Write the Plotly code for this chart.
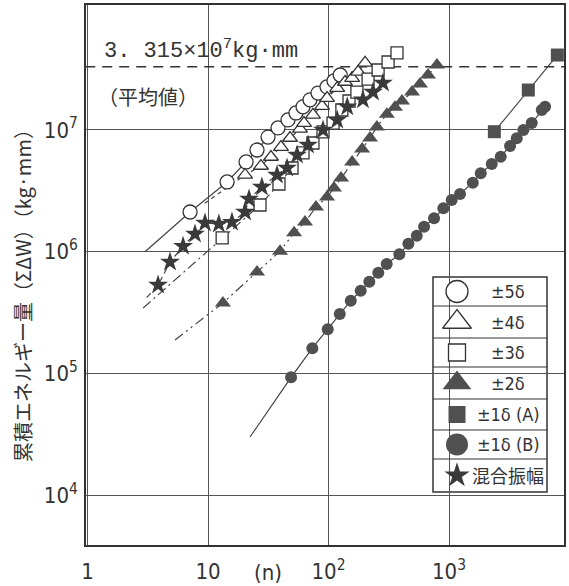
import plotly.graph_objects as go

# ---------------- data ----------------
N5 = [7.1, 14.4, 20.7, 25.5, 31.5, 38.1, 46.1, 53.7, 61.4, 70.2, 81.8, 97.2, 111, 125]
W5 = [2.12e6, 3.74e6, 5.46e6, 6.85e6, 8.75e6, 1.04e7, 1.21e7, 1.38e7, 1.55e7, 1.77e7, 2.01e7, 2.26e7, 2.53e7, 2.83e7]

N4 = [20.3, 27.5, 33.3, 40.3, 47.9, 58.0, 62.6, 74.3, 88.3, 97.2, 118, 137, 157, 176, 201]
W4 = [4.27e6, 5.06e6, 6.0e6, 7.24e6, 8.59e6, 1.02e7, 1.14e7, 1.33e7, 1.57e7, 1.83e7, 2.21e7, 2.48e7, 2.67e7, 3.0e7, 3.56e7]

N3 = [13.1, 27.0, 38.8, 49.8, 61.4, 74.3, 90.0, 109, 129, 148, 172, 213, 258, 312, 370]
W3 = [1.30e6, 2.42e6, 3.60e6, 4.87e6, 6.48e6, 7.82e6, 9.64e6, 1.14e7, 1.46e7, 1.73e7, 2.05e7, 2.62e7, 3.11e7, 3.62e7, 4.30e7]

N2 = [13.3, 25.5, 39.6, 51.8, 63.8, 78.7, 97.2, 111, 127, 157, 190, 221, 252, 305, 356, 407, 493, 574, 669, 794]
W2 = [3.79e5, 6.8e5, 1.01e6, 1.43e6, 1.75e6, 2.33e6, 2.81e6, 3.33e6, 4.03e6, 5.46e6, 6.98e6, 8.59e6, 1.06e7, 1.35e7, 1.54e7, 1.73e7, 2.05e7, 2.39e7, 2.83e7, 3.42e7]

N1A = [2377, 4550, 7920]
W1A = [9.68e6, 2.13e7, 4.13e7]

N1B = [48.9, 73.4, 98.5, 124, 153, 185, 218, 259, 304, 387, 460, 540, 621, 751, 897, 1052, 1234, 1574, 1833, 2261, 2685, 3209, 3647, 4139, 4856, 5878, 6265]
W1B = [9.29e4, 1.61e5, 2.31e5, 3.07e5, 3.96e5, 4.78e5, 5.66e5, 6.72e5, 7.92e5, 9.52e5, 1.16e6, 1.35e6, 1.60e6, 1.88e6, 2.27e6, 2.66e6, 2.98e6, 3.69e6, 4.41e6, 5.26e6, 6.04e6, 7.39e6, 8.55e6, 1.0e7, 1.14e7, 1.46e7, 1.55e7]

NMIX = [3.85, 4.84, 6.21, 7.80, 9.44, 12.3, 15.8, 20.3, 21.9, 28.0, 37.4, 45.3, 54.8, 67.6, 90.0, 118, 143, 193, 234, 283]
WMIX = [5.32e5, 8.22e5, 1.11e6, 1.40e6, 1.72e6, 1.69e6, 1.75e6, 2.12e6, 2.71e6, 3.40e6, 4.27e6, 4.87e6, 6.24e6, 7.53e6, 1.0e7, 1.21e7, 1.55e7, 1.77e7, 2.05e7, 2.43e7]

# start points of the fitted lines that run in below the first marker
LEAD_N = {"5": 3.0, "4": 9.4, "3": 2.89, "2": 5.32, "1B": 22.3, "MIX": 3.1}
LEAD_W = {"5": 1.0e6, "4": 2.5e6, "3": 3.44e5, "2": 1.88e5, "1B": 3.0e4, "MIX": 4.2e5}

AVG = 3.315e7
AVG_TEXT = "3. 315×10<sup>7</sup>kg·mm"
AVG_NOTE = "（平均値）"

X_TICKS = [1, 10, 100, 1000]
X_TICKTEXT = ["1", "10", "10<sup>2</sup>", "10<sup>3</sup>"]
Y_TICKS = [1e4, 1e5, 1e6, 1e7]
Y_TICKTEXT = ["10<sup>4</sup>", "10<sup>5</sup>", "10<sup>6</sup>", "10<sup>7</sup>"]
Y_TITLE = "累積エネルギー量（ΣΔW）（kg·mm）"
X_TITLE = "(n)"

LEGEND_LABELS = ["±5δ", "±4δ", "±3δ", "±2δ", "±1δ (A)", "±1δ (B)", "混合振幅"]

# ---------------- styling ----------------
W_PX, H_PX = 569, 586
L, R, T, B = 86, 5, 5, 41
PL, PR, PT, PB = L, W_PX - R, T, H_PX - B

def px(x):
    return (x - PL) / (PR - PL)

def py(y):
    return (PB - y) / (PB - PT)

INK = "#333333"
FILL = "#505050"
LINE = "#444444"
NUMFONT = "Liberation Sans Narrow, DejaVu Sans Condensed, sans-serif"
CJK = "Noto Sans CJK JP"

series = [
    # key, N, W, symbol, size, fill, dash
    ("5", N5, W5, "circle", 14, "white", "solid"),
    ("4", N4, W4, "triangle-up", 13, "white", "4px,4px"),
    ("3", N3, W3, "square", 12, "white", "10px,4px,2px,4px"),
    ("MIX", NMIX, WMIX, "star", 15, "#3a3a3a", "6px,4px"),
    ("2", N2, W2, "triangle-up", 14, FILL, "10px,4px,2px,4px,2px,4px"),
    ("1A", N1A, W1A, "square", 13, FILL, "solid"),
    ("1B", N1B, W1B, "circle", 12, FILL, "solid"),
]

fig = go.Figure()

# average line
fig.add_trace(go.Scatter(x=[0.5, 20000], y=[AVG, AVG], mode="lines",
                         line=dict(color=INK, width=1.5, dash="10px,7px"),
                         hoverinfo="skip", showlegend=False))

# fit lines
for key, n, w, sym, size, fill, dash in series:
    xs = ([LEAD_N[key]] if key in LEAD_N else []) + list(n)
    ys = ([LEAD_W[key]] if key in LEAD_W else []) + list(w)
    fig.add_trace(go.Scatter(x=xs, y=ys, mode="lines",
                             line=dict(color=LINE, width=1.2, dash=dash),
                             hoverinfo="skip", showlegend=False))

# markers
for key, n, w, sym, size, fill, dash in series:
    open_m = fill == "white"
    fig.add_trace(go.Scatter(
        x=n, y=w, mode="markers", showlegend=False,
        marker=dict(symbol=sym, size=size, color=fill,
                    line=dict(color=INK if open_m else fill, width=1.3 if open_m else 0))))

# ---------------- manual legend ----------------
LEG_X0, LEG_X1 = 433, 547
ROW_EDGES = [277, 306, 338, 367, 399, 430, 459, 492]
SYM_X, TXT_X = 457, 508
leg_syms = [("circle", 22, "white"), ("triangle-up", 25, "white"), ("square", 17, "white"),
            ("triangle-up", 25, FILL), ("square", 17, FILL), ("circle", 22, FILL), ("star", 19, "#3a3a3a")]

shapes = [dict(type="rect", xref="paper", yref="paper", layer="between",
               x0=px(LEG_X0), x1=px(LEG_X1), y0=py(ROW_EDGES[-1]), y1=py(ROW_EDGES[0]),
               fillcolor="white", line=dict(color=INK, width=1.5))]
for e in ROW_EDGES[1:-1]:
    shapes.append(dict(type="line", xref="paper", yref="paper", layer="above",
                       x0=px(LEG_X0), x1=px(LEG_X1), y0=py(e), y1=py(e),
                       line=dict(color=INK, width=1.2)))

annotations = []
for i, (lab, (sym, size, fill)) in enumerate(zip(LEGEND_LABELS, leg_syms)):
    cy = (ROW_EDGES[i] + ROW_EDGES[i + 1]) / 2
    open_m = fill == "white"
    fig.add_trace(go.Scatter(
        x=[px(SYM_X)], y=[py(cy)], xaxis="x2", yaxis="y2", mode="markers", showlegend=False,
        hoverinfo="skip",
        marker=dict(symbol=sym, size=size, color=fill,
                    line=dict(color=INK if open_m else fill, width=1.3 if open_m else 0))))
    annotations.append(dict(xref="paper", yref="paper", x=px(TXT_X), y=py(cy), text=lab,
                            showarrow=False, xanchor="center", yanchor="middle",
                            font=dict(family=CJK if lab == "混合振幅" else NUMFONT, size=18, color=INK)))

# text annotations
annotations.append(dict(xref="paper", yref="paper", x=px(102), y=py(49), text=AVG_TEXT,
                        showarrow=False, xanchor="left", yanchor="middle",
                        font=dict(family="Liberation Mono, DejaVu Sans Mono, monospace", size=22, color=INK)))
annotations.append(dict(xref="paper", yref="paper", x=px(96), y=py(96), text=AVG_NOTE,
                        showarrow=False, xanchor="left", yanchor="middle",
                        font=dict(family=CJK, size=20, color=INK)))
annotations.append(dict(xref="paper", yref="paper", x=px(22), y=py(291), text=Y_TITLE,
                        showarrow=False, xanchor="center", yanchor="middle", textangle=-90,
                        font=dict(family=CJK, size=20, color=INK)))
annotations.append(dict(xref="paper", yref="paper", x=px(268), y=py(572), text=X_TITLE,
                        showarrow=False, xanchor="center", yanchor="middle",
                        font=dict(family=NUMFONT, size=22, color=INK)))

axis_common = dict(type="log", showgrid=True, gridcolor="#555555", gridwidth=1,
                   showline=True, linecolor=INK, linewidth=1.5, mirror=True,
                   ticks="", zeroline=False, automargin=False,
                   tickfont=dict(family=NUMFONT, size=22, color=INK))

fig.update_layout(
    width=W_PX, height=H_PX,
    margin=dict(l=L, r=R, t=T, b=B, autoexpand=False),
    paper_bgcolor="white", plot_bgcolor="white",
    showlegend=False,
    xaxis=dict(range=[-0.0124, 3.954], tickvals=X_TICKS, ticktext=X_TICKTEXT,
               ticklabelstandoff=6, **axis_common),
    yaxis=dict(range=[3.590, 8.027], tickvals=Y_TICKS, ticktext=Y_TICKTEXT,
               ticklabelstandoff=2, **axis_common),
    xaxis2=dict(overlaying="x", range=[0, 1], visible=False, anchor="y2"),
    yaxis2=dict(overlaying="y", range=[0, 1], visible=False, anchor="x2"),
    shapes=shapes,
    annotations=annotations,
)

fig.write_html("out.html", config={"displayModeBar": False},
               post_script="document.body.style.margin='0px';")
